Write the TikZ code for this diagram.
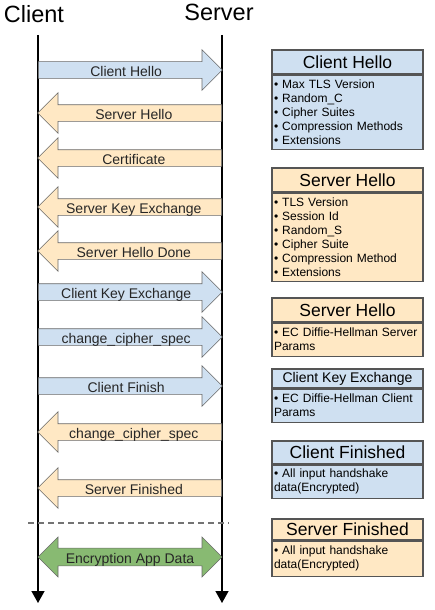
\documentclass[tikz,border=0pt]{standalone}
\usepackage{fontspec}
\setmainfont{Liberation Sans}
\usetikzlibrary{shapes.arrows,arrows.meta,positioning}
\definecolor{msgblue}{RGB}{207,224,241}
\definecolor{msgorange}{RGB}{255,232,196}
\definecolor{msggreen}{RGB}{136,186,114}
\definecolor{msgedge}{RGB}{105,105,105}
\definecolor{boxedge}{RGB}{85,85,85}

\tikzset{
  lifeline/.style={line width=1.4pt, -{Triangle[width=13pt,length=12pt]}},
  msg/.style={
    single arrow, draw=msgedge, line width=0.6pt,
    single arrow head extend=12pt, single arrow tip angle=90,
    minimum height=184pt, minimum width=40pt,
    inner xsep=0pt, inner ysep=1.5pt, text height=12.5pt, text depth=0.5pt,
    font=\fontsize{14}{14}\selectfont, text=black!85
  },
  toserver/.style={msg, fill=msgblue, anchor=tail},
  toclient/.style={msg, fill=msgorange, shape border rotate=180, anchor=tail},
  boxtitle/.style={
    draw=boxedge, line width=1.2pt, minimum width=151pt, minimum height=24pt,
    inner sep=0pt, font=\fontsize{17.5}{18}\selectfont
  },
  boxbody/.style={
    draw=boxedge, line width=1.2pt, text width=147pt, align=left,
    inner xsep=2pt, inner ysep=2pt, font=\fontsize{12}{14}\selectfont
  }
}

\begin{document}
\begin{tikzpicture}[x=1pt,y=-1pt]
  \useasboundingbox (0,0) rectangle (435,610);

  % actors and life lines
  \node[anchor=base, font=\fontsize{23.5}{24}\selectfont] (client) at (34,23) {Client};
  \node[anchor=base, font=\fontsize{23.5}{24}\selectfont] (server) at (219,21) {Server};
  \coordinate (ctop) at (38,35);
  \coordinate (cbot) at (38,603);
  \coordinate (stop) at (222,35);
  \coordinate (sbot) at (222,603);
  \draw[lifeline] (ctop) -- (cbot);
  \draw[lifeline] (stop) -- (sbot);

  % handshake messages
  \node[toserver] (chello) at (38,70) {Client Hello};
  \node[toclient] (shello) at (222,113) {Server Hello};
  \node[toclient] (cert) at (222,158) {Certificate};
  \node[toclient] (skex) at (222,207) {Server Key Exchange};
  \node[toclient] (shdone) at (222,251) {Server Hello Done};
  \node[toserver] (ckex) at (38,292) {Client Key Exchange};
  \node[toserver] (cccs) at (38,337) {change\_cipher\_spec};
  \node[toserver] (cfin) at (38,386) {Client Finish};
  \node[toclient] (sccs) at (222,432) {change\_cipher\_spec};
  \node[toclient] (sfin) at (222,488) {Server Finished};

  \coordinate (dl) at (28,523);
  \coordinate (dr) at (229,523);
  \draw[black!55, line width=1.2pt, dash pattern=on 6pt off 4pt] (dl) -- (dr);

  \node[double arrow, draw=msgedge, line width=0.6pt, fill=msggreen,
    double arrow head extend=11pt, double arrow tip angle=90,
    minimum height=184pt, minimum width=40pt,
    inner xsep=0pt, inner ysep=2pt, text height=12.5pt, text depth=0.5pt,
    font=\fontsize{14}{14}\selectfont, text=black!85] (appdata) at (130,557) {Encryption App Data};

  % message contents
  \node[boxtitle, fill=msgblue] (chT) at (347.5,62) {Client Hello};
  \node[boxbody, fill=msgblue, below=0pt of chT, minimum height=74pt] (chB)
    {\textbullet\ Max TLS Version\\\textbullet\ Random\_C\\\textbullet\ Cipher Suites\\\textbullet\ Compression Methods\\\textbullet\ Extensions};

  \node[boxtitle, fill=msgorange] (shT) at (347.5,180) {Server Hello};
  \node[boxbody, fill=msgorange, below=0pt of shT, minimum height=88pt] (shB)
    {\textbullet\ TLS Version\\\textbullet\ Session Id\\\textbullet\ Random\_S\\\textbullet\ Cipher Suite\\\textbullet\ Compression Method\\\textbullet\ Extensions};

  \node[boxtitle, fill=msgorange] (skT) at (347.5,310) {Server Hello};
  \node[boxbody, fill=msgorange, below=0pt of skT, minimum height=33pt] (skB)
    {\textbullet\ EC Diffie-Hellman Server\\Params};

  \node[boxtitle, fill=msgblue, minimum height=19pt, font=\fontsize{14}{15}\selectfont] (ckT) at (347.5,378.5) {Client Key Exchange};
  \node[boxbody, fill=msgblue, below=0pt of ckT, minimum height=33pt] (ckB)
    {\textbullet\ EC Diffie-Hellman Client\\Params};

  \node[boxtitle, fill=msgblue, minimum height=23pt] (cfT) at (347.5,452.5) {Client Finished};
  \node[boxbody, fill=msgblue, below=0pt of cfT, minimum height=33pt] (cfB)
    {\textbullet\ All input handshake\\data(Encrypted)};

  \node[boxtitle, fill=msgorange, minimum height=21pt] (sfT) at (347.5,529.5) {Server Finished};
  \node[boxbody, fill=msgorange, below=0pt of sfT, minimum height=35pt] (sfB)
    {\textbullet\ All input handshake\\data(Encrypted)};
\end{tikzpicture}
\end{document}
